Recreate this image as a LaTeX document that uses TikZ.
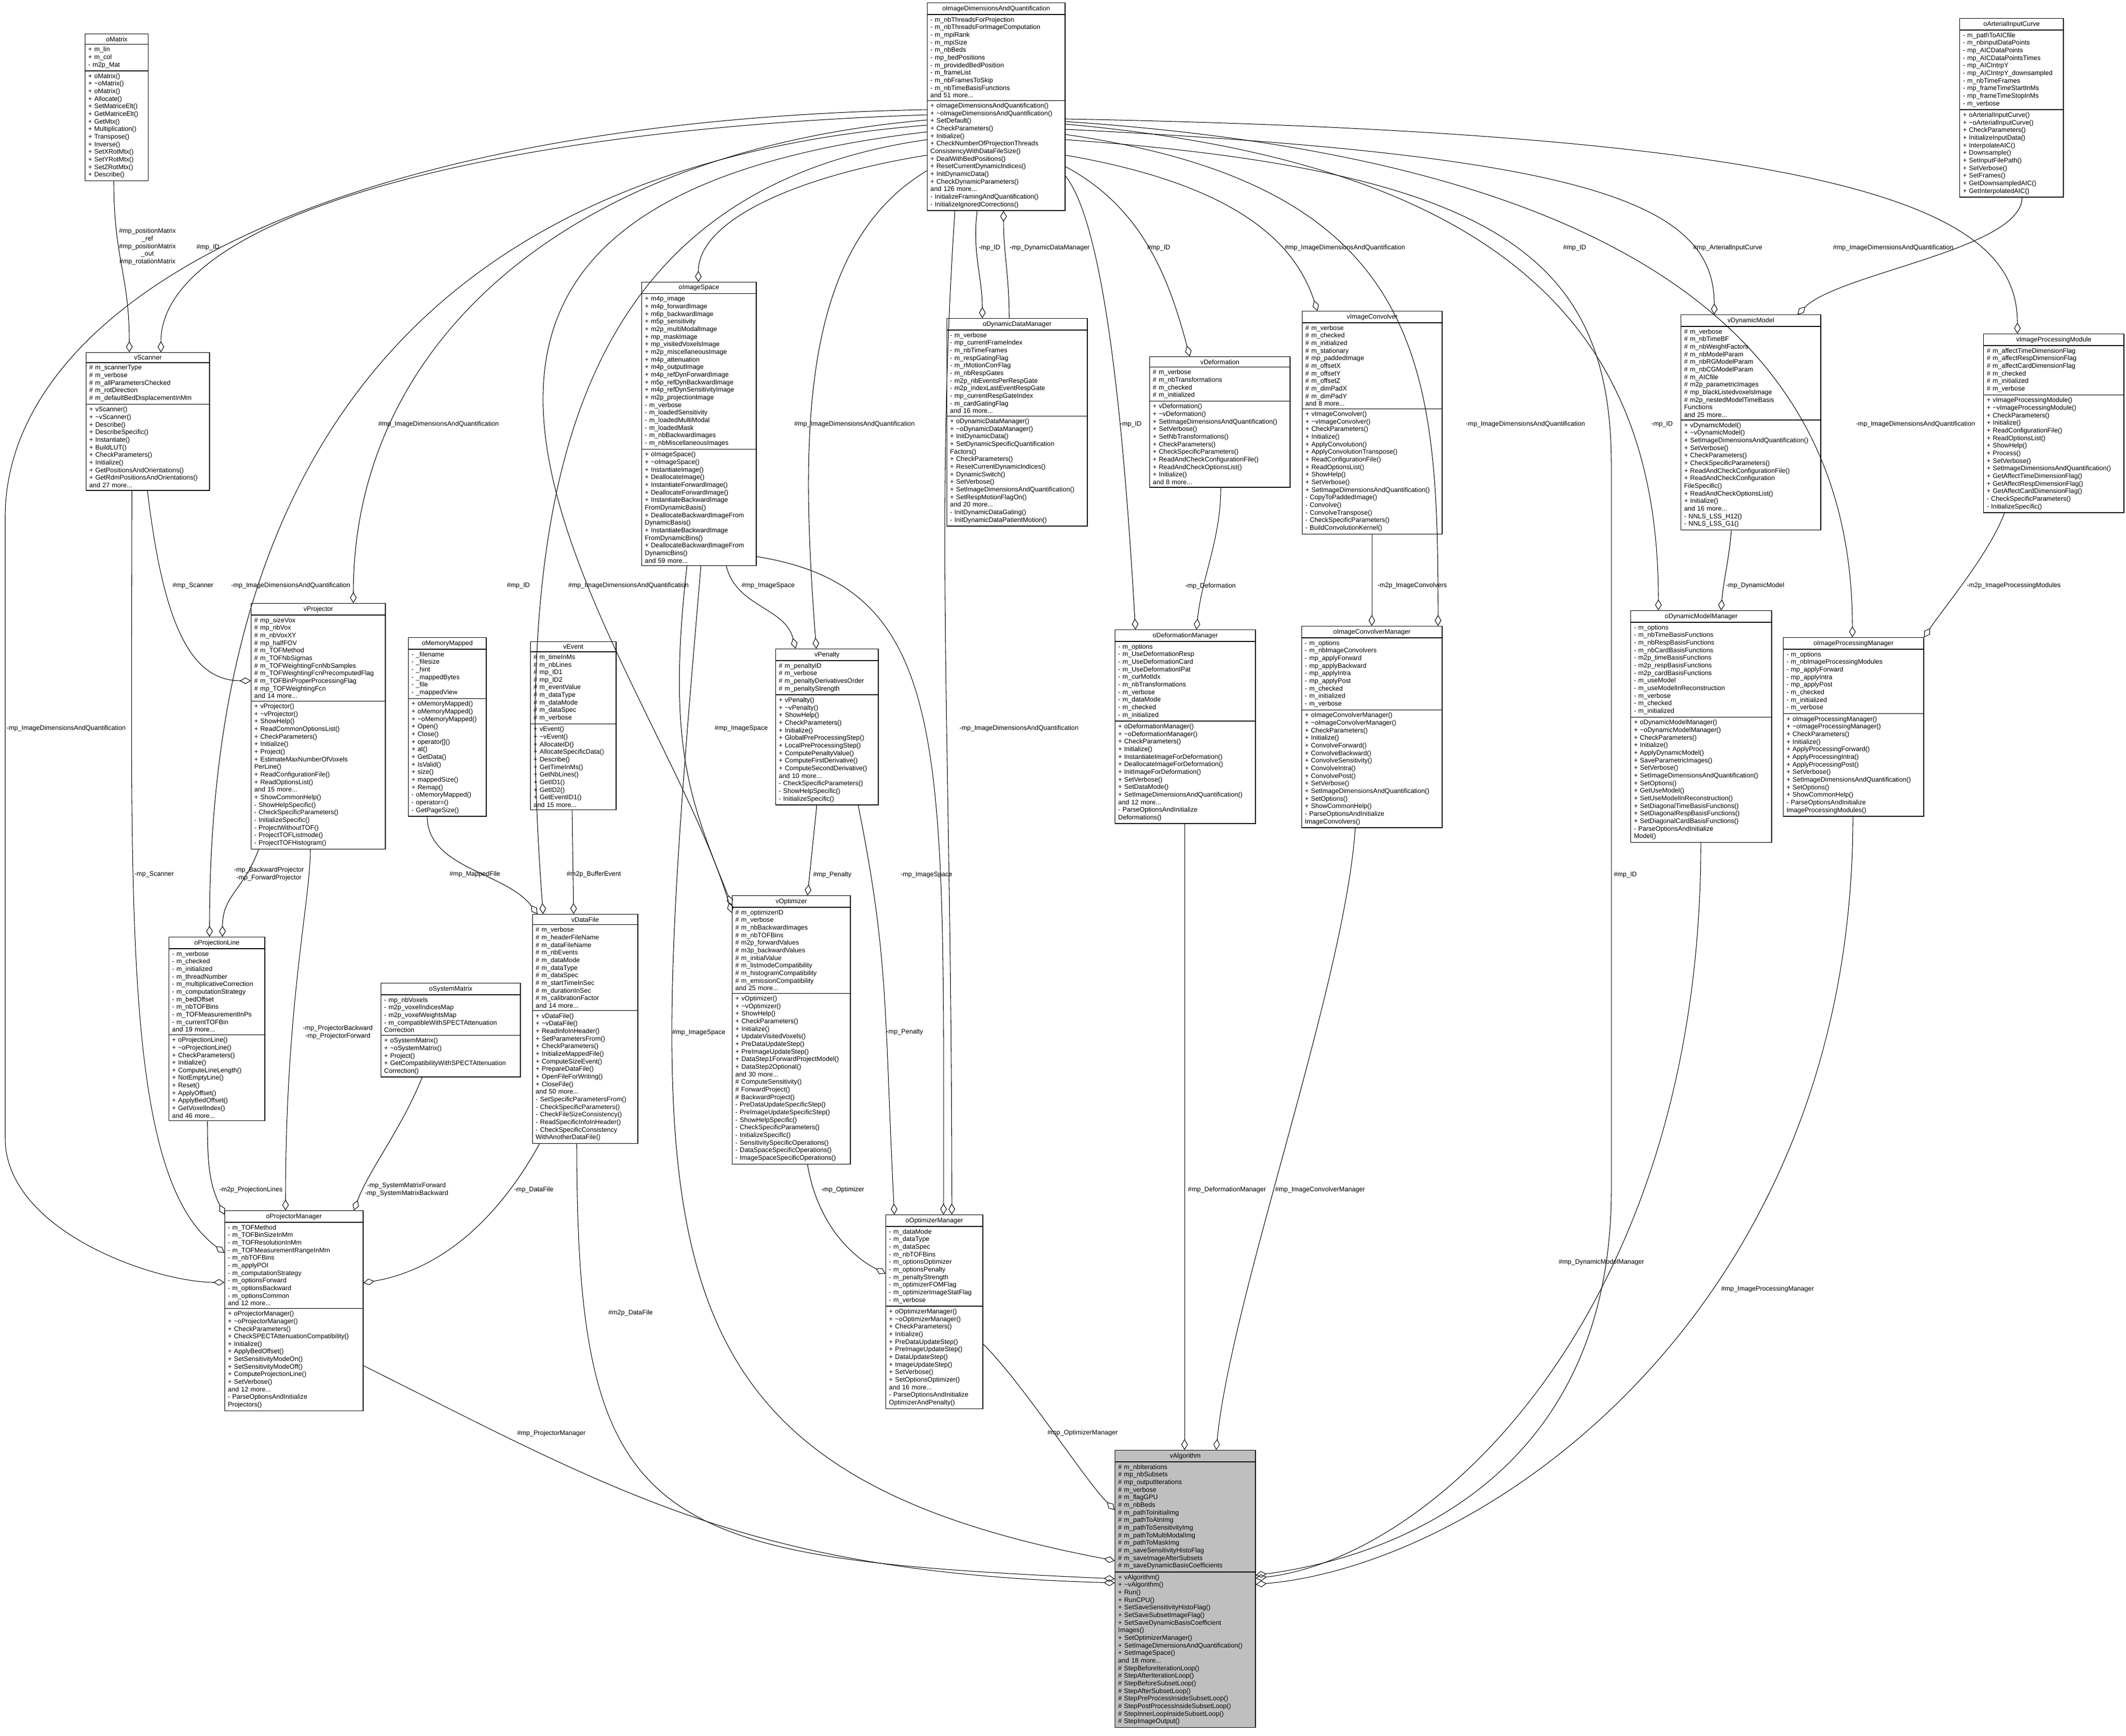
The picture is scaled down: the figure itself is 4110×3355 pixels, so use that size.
\documentclass[tikz,border=0pt]{standalone}
\usepackage{fontspec}
\setmainfont{Liberation Sans}
\usetikzlibrary{shapes.multipart,arrows.meta}
\newcommand{\fs}{\fontsize{3.6}{4.17}\selectfont}
\newcommand{\tld}{\textasciitilde}
\tikzset{
  cls/.style={draw, line width=0.4pt, rectangle split, rectangle split parts=3, anchor=north west, align=left, inner xsep=0.06cm, inner ysep=0.045cm, font=\fs},
  agg/.style={line width=0.3pt, -{Diamond[open,length=6pt,width=3.6pt]}},
  lbl/.style={font=\fs, inner sep=0pt, align=center}
}
\begin{document}
\begin{tikzpicture}[x=0.01cm,y=-0.01cm]
\useasboundingbox (0,0) rectangle (4110,3355);
% ---------------- classes ----------------
\node[cls, text width=1.10cm] (oMatrix) at (164,65) {\hfil oMatrix\hfil
\nodepart{two} + m\_lin\\+ m\_col\\- m2p\_Mat
\nodepart{three} + oMatrix()\\+ \tld oMatrix()\\+ oMatrix()\\+ Allocate()\\+ SetMatriceElt()\\+ GetMatriceElt()\\+ GetMtx()\\+ Multiplication()\\+ Transpose()\\+ Inverse()\\+ SetXRotMtx()\\+ SetYRotMtx()\\+ SetZRotMtx()\\+ Describe()};

\node[cls, text width=2.54cm] (oIDAQ) at (1792,5) {\hfil oImageDimensionsAndQuantification\hfil
\nodepart{two} - m\_nbThreadsForProjection\\- m\_nbThreadsForImageComputation\\- m\_mpiRank\\- m\_mpiSize\\- m\_nbBeds\\- mp\_bedPositions\\- m\_providedBedPosition\\- m\_frameList\\- m\_nbFramesToSkip\\- m\_nbTimeBasisFunctions\\and 51 more...
\nodepart{three} + oImageDimensionsAndQuantification()\\+ \tld oImageDimensionsAndQuantification()\\+ SetDefault()\\+ CheckParameters()\\+ Initialize()\\+ CheckNumberOfProjectionThreads\\ConsistencyWithDataFileSize()\\+ DealWithBedPositions()\\+ ResetCurrentDynamicIndices()\\+ InitDynamicData()\\+ CheckDynamicParameters()\\and 126 more...\\- InitializeFramingAndQuantification()\\- InitializeIgnoredCorrections()};

\node[cls, text width=1.88cm] (oArt) at (3788,35) {\hfil oArterialInputCurve\hfil
\nodepart{two} - m\_pathToAICfile\\- m\_nbinputDataPoints\\- mp\_AICDataPoints\\- mp\_AICDataPointsTimes\\- mp\_AICIntrpY\\- mp\_AICIntrpY\_downsampled\\- m\_nbTimeFrames\\- mp\_frameTimeStartInMs\\- mp\_frameTimeStopInMs\\- m\_verbose
\nodepart{three} + oArterialInputCurve()\\+ \tld oArterialInputCurve()\\+ CheckParameters()\\+ InitializeInputData()\\+ InterpolateAIC()\\+ Downsample()\\+ SetInputFilePath()\\+ SetVerbose()\\+ SetFrames()\\+ GetDownsampledAIC()\\+ GetInterpolatedAIC()};

\node[cls, text width=2.26cm] (vScanner) at (166,681) {\hfil vScanner\hfil
\nodepart{two} \# m\_scannerType\\\# m\_verbose\\\# m\_allParametersChecked\\\# m\_rotDirection\\\# m\_defaultBedDisplacementInMm
\nodepart{three} + vScanner()\\+ \tld vScanner()\\+ Describe()\\+ DescribeSpecific()\\+ Instantiate()\\+ BuildLUT()\\+ CheckParameters()\\+ Initialize()\\+ GetPositionsAndOrientations()\\+ GetRdmPositionsAndOrientations()\\and 27 more...};

\node[cls, text width=2.09cm] (oIS) at (1240,545) {\hfil oImageSpace\hfil
\nodepart{two} + m4p\_image\\+ m4p\_forwardImage\\+ m6p\_backwardImage\\+ m5p\_sensitivity\\+ m2p\_multiModalImage\\+ mp\_maskImage\\+ mp\_visitedVoxelsImage\\+ m2p\_miscellaneousImage\\+ m4p\_attenuation\\+ m4p\_outputImage\\+ m4p\_refDynForwardImage\\+ m5p\_refDynBackwardImage\\+ m4p\_refDynSensitivityImage\\+ m2p\_projectionImage\\- m\_verbose\\- m\_loadedSensitivity\\- m\_loadedMultiModal\\- m\_loadedMask\\- m\_nbBackwardImages\\- m\_nbMiscellaneousImages
\nodepart{three} + oImageSpace()\\+ \tld oImageSpace()\\+ InstantiateImage()\\+ DeallocateImage()\\+ InstantiateForwardImage()\\+ DeallocateForwardImage()\\+ InstantiateBackwardImage\\FromDynamicBasis()\\+ DeallocateBackwardImageFrom\\DynamicBasis()\\+ InstantiateBackwardImage\\FromDynamicBins()\\+ DeallocateBackwardImageFrom\\DynamicBins()\\and 59 more...};

\node[cls, text width=2.59cm] (oDDM) at (1830,615) {\hfil oDynamicDataManager\hfil
\nodepart{two} - m\_verbose\\- mp\_currentFrameIndex\\- m\_nbTimeFrames\\- m\_respGatingFlag\\- m\_rMotionCorrFlag\\- m\_nbRespGates\\- m2p\_nbEventsPerRespGate\\- m2p\_indexLastEventRespGate\\- mp\_currentRespGateIndex\\- m\_cardGatingFlag\\and 16 more...
\nodepart{three} + oDynamicDataManager()\\+ \tld oDynamicDataManager()\\+ InitDynamicData()\\+ SetDynamicSpecificQuantification\\Factors()\\+ CheckParameters()\\+ ResetCurrentDynamicIndices()\\+ DynamicSwitch()\\+ SetVerbose()\\+ SetImageDimensionsAndQuantification()\\+ SetRespMotionFlagOn()\\and 20 more...\\- InitDynamicDataGating()\\- InitDynamicDataPatientMotion()};

\node[cls, text width=2.59cm] (vDef) at (2222,689) {\hfil vDeformation\hfil
\nodepart{two} \# m\_verbose\\\# m\_nbTransformations\\\# m\_checked\\\# m\_initialized
\nodepart{three} + vDeformation()\\+ \tld vDeformation()\\+ SetImageDimensionsAndQuantification()\\+ SetVerbose()\\+ SetNbTransformations()\\+ CheckParameters()\\+ CheckSpecificParameters()\\+ ReadAndCheckConfigurationFile()\\+ ReadAndCheckOptionsList()\\+ Initialize()\\and 8 more...};

\node[cls, text width=2.58cm] (vIC) at (2517,601) {\hfil vImageConvolver\hfil
\nodepart{two} \# m\_verbose\\\# m\_checked\\\# m\_initialized\\\# m\_stationary\\\# mp\_paddedImage\\\# m\_offsetX\\\# m\_offsetY\\\# m\_offsetZ\\\# m\_dimPadX\\\# m\_dimPadY\\and 8 more...
\nodepart{three} + vImageConvolver()\\+ \tld vImageConvolver()\\+ CheckParameters()\\+ Initialize()\\+ ApplyConvolution()\\+ ApplyConvolutionTranspose()\\+ ReadConfigurationFile()\\+ ReadOptionsList()\\+ ShowHelp()\\+ SetVerbose()\\+ SetImageDimensionsAndQuantification()\\- CopyToPaddedImage()\\- Convolve()\\- ConvolveTranspose()\\- CheckSpecificParameters()\\- BuildConvolutionKernel()};

\node[cls, text width=2.58cm] (vDM) at (3249,608) {\hfil vDynamicModel\hfil
\nodepart{two} \# m\_verbose\\\# m\_nbTimeBF\\\# m\_nbWeightFactors\\\# m\_nbModelParam\\\# m\_nbRGModelParam\\\# m\_nbCGModelParam\\\# m\_AICfile\\\# m2p\_parametricImages\\\# mp\_blackListedvoxelsImage\\\# m2p\_nestedModelTimeBasis\\Functions\\and 25 more...
\nodepart{three} + vDynamicModel()\\+ \tld vDynamicModel()\\+ SetImageDimensionsAndQuantification()\\+ SetVerbose()\\+ CheckParameters()\\+ CheckSpecificParameters()\\+ ReadAndCheckConfigurationFile()\\+ ReadAndCheckConfiguration\\FileSpecific()\\+ ReadAndCheckOptionsList()\\+ Initialize()\\and 16 more...\\- NNLS\_LSS\_H12()\\- NNLS\_LSS\_G1()};

\node[cls, text width=2.59cm] (vIPM) at (3834,645) {\hfil vImageProcessingModule\hfil
\nodepart{two} \# m\_affectTimeDimensionFlag\\\# m\_affectRespDimensionFlag\\\# m\_affectCardDimensionFlag\\\# m\_checked\\\# m\_initialized\\\# m\_verbose
\nodepart{three} + vImageProcessingModule()\\+ \tld vImageProcessingModule()\\+ CheckParameters()\\+ Initialize()\\+ ReadConfigurationFile()\\+ ReadOptionsList()\\+ ShowHelp()\\+ Process()\\+ SetVerbose()\\+ SetImageDimensionsAndQuantification()\\+ GetAffectTimeDimensionFlag()\\+ GetAffectRespDimensionFlag()\\+ GetAffectCardDimensionFlag()\\- CheckSpecificParameters()\\- InitializeSpecific()};

\node[cls, text width=2.47cm] (vProj) at (485,1166) {\hfil vProjector\hfil
\nodepart{two} \# mp\_sizeVox\\\# mp\_nbVox\\\# m\_nbVoxXY\\\# mp\_halfFOV\\\# m\_TOFMethod\\\# m\_TOFNbSigmas\\\# m\_TOFWeightingFcnNbSamples\\\# m\_TOFWeightingFcnPrecomputedFlag\\\# m\_TOFBinProperProcessingFlag\\\# mp\_TOFWeightingFcn\\and 14 more...
\nodepart{three} + vProjector()\\+ \tld vProjector()\\+ ShowHelp()\\+ ReadCommonOptionsList()\\+ CheckParameters()\\+ Initialize()\\+ Project()\\+ EstimateMaxNumberOfVoxels\\PerLine()\\+ ReadConfigurationFile()\\+ ReadOptionsList()\\and 15 more...\\+ ShowCommonHelp()\\- ShowHelpSpecific()\\- CheckSpecificParameters()\\- InitializeSpecific()\\- ProjectWithoutTOF()\\- ProjectTOFListmode()\\- ProjectTOFHistogram()};

\node[cls, text width=1.38cm] (oMM) at (789,1232) {\hfil oMemoryMapped\hfil
\nodepart{two} - \_filename\\- \_filesize\\- \_hint\\- \_mappedBytes\\- \_file\\- \_mappedView
\nodepart{three} + oMemoryMapped()\\+ oMemoryMapped()\\+ \tld oMemoryMapped()\\+ Open()\\+ Close()\\+ operator[]()\\+ at()\\+ GetData()\\+ IsValid()\\+ size()\\+ mappedSize()\\+ Remap()\\- oMemoryMapped()\\- operator=()\\- GetPageSize()};

\node[cls, text width=1.53cm] (vEv) at (1025,1240) {\hfil vEvent\hfil
\nodepart{two} \# m\_timeInMs\\\# m\_nbLines\\\# mp\_ID1\\\# mp\_ID2\\\# m\_eventValue\\\# m\_dataType\\\# m\_dataMode\\\# m\_dataSpec\\\# m\_verbose
\nodepart{three} + vEvent()\\+ \tld vEvent()\\+ AllocateID()\\+ AllocateSpecificData()\\+ Describe()\\+ GetTimeInMs()\\+ GetNbLines()\\+ GetID1()\\+ GetID2()\\+ GetEventID1()\\and 15 more...};

\node[cls, text width=1.86cm] (vPen) at (1499,1254) {\hfil vPenalty\hfil
\nodepart{two} \# m\_penaltyID\\\# m\_verbose\\\# m\_penaltyDerivativesOrder\\\# m\_penaltyStrength
\nodepart{three} + vPenalty()\\+ \tld vPenalty()\\+ ShowHelp()\\+ CheckParameters()\\+ Initialize()\\+ GlobalPreProcessingStep()\\+ LocalPreProcessingStep()\\+ ComputePenaltyValue()\\+ ComputeFirstDerivative()\\+ ComputeSecondDerivative()\\and 10 more...\\- CheckSpecificParameters()\\- ShowHelpSpecific()\\- InitializeSpecific()};

\node[cls, text width=2.59cm] (oDefM) at (2155,1217) {\hfil oDeformationManager\hfil
\nodepart{two} - m\_options\\- m\_UseDeformationResp\\- m\_UseDeformationCard\\- m\_UseDeformationIPat\\- m\_curMotIdx\\- m\_nbTransformations\\- m\_verbose\\- m\_dataMode\\- m\_checked\\- m\_initialized
\nodepart{three} + oDeformationManager()\\+ \tld oDeformationManager()\\+ CheckParameters()\\+ Initialize()\\+ InstantiateImageForDeformation()\\+ DeallocateImageForDeformation()\\+ InitImageForDeformation()\\+ SetVerbose()\\+ SetDataMode()\\+ SetImageDimensionsAndQuantification()\\and 12 more...\\- ParseOptionsAndInitialize\\Deformations()};

\node[cls, text width=2.59cm] (oICM) at (2516,1210) {\hfil oImageConvolverManager\hfil
\nodepart{two} - m\_options\\- m\_nbImageConvolvers\\- mp\_applyForward\\- mp\_applyBackward\\- mp\_applyIntra\\- mp\_applyPost\\- m\_checked\\- m\_initialized\\- m\_verbose
\nodepart{three} + oImageConvolverManager()\\+ \tld oImageConvolverManager()\\+ CheckParameters()\\+ Initialize()\\+ ConvolveForward()\\+ ConvolveBackward()\\+ ConvolveSensitivity()\\+ ConvolveIntra()\\+ ConvolvePost()\\+ SetVerbose()\\+ SetImageDimensionsAndQuantification()\\+ SetOptions()\\+ ShowCommonHelp()\\- ParseOptionsAndInitialize\\ImageConvolvers()};

\node[cls, text width=2.60cm] (oDMM) at (3152,1180) {\hfil oDynamicModelManager\hfil
\nodepart{two} - m\_options\\- m\_nbTimeBasisFunctions\\- m\_nbRespBasisFunctions\\- m\_nbCardBasisFunctions\\- m2p\_timeBasisFunctions\\- m2p\_respBasisFunctions\\- m2p\_cardBasisFunctions\\- m\_useModel\\- m\_useModelInReconstruction\\- m\_verbose\\- m\_checked\\- m\_initialized
\nodepart{three} + oDynamicModelManager()\\+ \tld oDynamicModelManager()\\+ CheckParameters()\\+ Initialize()\\+ ApplyDynamicModel()\\+ SaveParametricImages()\\+ SetVerbose()\\+ SetImageDimensionsAndQuantification()\\+ SetOptions()\\+ GetUseModel()\\+ SetUseModelInReconstruction()\\+ SetDiagonalTimeBasisFunctions()\\+ SetDiagonalRespBasisFunctions()\\+ SetDiagonalCardBasisFunctions()\\- ParseOptionsAndInitialize\\Model()};

\node[cls, text width=2.59cm] (oIPM) at (3447,1232) {\hfil oImageProcessingManager\hfil
\nodepart{two} - m\_options\\- m\_nbImageProcessingModules\\- mp\_applyForward\\- mp\_applyIntra\\- mp\_applyPost\\- m\_checked\\- m\_initialized\\- m\_verbose
\nodepart{three} + oImageProcessingManager()\\+ \tld oImageProcessingManager()\\+ CheckParameters()\\+ Initialize()\\+ ApplyProcessingForward()\\+ ApplyProcessingIntra()\\+ ApplyProcessingPost()\\+ SetVerbose()\\+ SetImageDimensionsAndQuantification()\\+ SetOptions()\\+ ShowCommonHelp()\\- ParseOptionsAndInitialize\\ImageProcessingModules()};

\node[cls, text width=1.73cm] (oPL) at (326,1811) {\hfil oProjectionLine\hfil
\nodepart{two} - m\_verbose\\- m\_checked\\- m\_initialized\\- m\_threadNumber\\- m\_multiplicativeCorrection\\- m\_computationStrategy\\- m\_bedOffset\\- m\_nbTOFBins\\- m\_TOFMeasurementInPs\\- m\_currentTOFBin\\and 19 more...
\nodepart{three} + oProjectionLine()\\+ \tld oProjectionLine()\\+ CheckParameters()\\+ Initialize()\\+ ComputeLineLength()\\+ NotEmptyLine()\\+ Reset()\\+ ApplyOffset()\\+ ApplyBedOffset()\\+ GetVoxelIndex()\\and 46 more...};

\node[cls, text width=2.57cm] (oSM) at (736,1900) {\hfil oSystemMatrix\hfil
\nodepart{two} - mp\_nbVoxels\\- m2p\_voxelIndicesMap\\- m2p\_voxelWeightsMap\\- m\_compatibleWithSPECTAttenuation\\Correction
\nodepart{three} + oSystemMatrix()\\+ \tld oSystemMatrix()\\+ Project()\\+ GetCompatibilityWithSPECTAttenuation\\Correction()};

\node[cls, text width=1.91cm] (vDF) at (1029,1767) {\hfil vDataFile\hfil
\nodepart{two} \# m\_verbose\\\# m\_headerFileName\\\# m\_dataFileName\\\# m\_nbEvents\\\# m\_dataMode\\\# m\_dataType\\\# m\_dataSpec\\\# m\_startTimeInSec\\\# m\_durationInSec\\\# m\_calibrationFactor\\and 14 more...
\nodepart{three} + vDataFile()\\+ \tld vDataFile()\\+ ReadInfoInHeader()\\+ SetParametersFrom()\\+ CheckParameters()\\+ InitializeMappedFile()\\+ ComputeSizeEvent()\\+ PrepareDataFile()\\+ OpenFileForWriting()\\+ CloseFile()\\and 50 more...\\- SetSpecificParametersFrom()\\- CheckSpecificParameters()\\- CheckFileSizeConsistency()\\- ReadSpecificInfoInHeader()\\- CheckSpecificConsistency\\WithAnotherDataFile()};

\node[cls, text width=2.16cm] (vOpt) at (1415,1731) {\hfil vOptimizer\hfil
\nodepart{two} \# m\_optimizerID\\\# m\_verbose\\\# m\_nbBackwardImages\\\# m\_nbTOFBins\\\# m2p\_forwardValues\\\# m3p\_backwardValues\\\# m\_initialValue\\\# m\_listmodeCompatibility\\\# m\_histogramCompatibility\\\# m\_emissionCompatibility\\and 25 more...
\nodepart{three} + vOptimizer()\\+ \tld vOptimizer()\\+ ShowHelp()\\+ CheckParameters()\\+ Initialize()\\+ UpdateVisitedVoxels()\\+ PreDataUpdateStep()\\+ PreImageUpdateStep()\\+ DataStep1ForwardProjectModel()\\+ DataStep2Optional()\\and 30 more...\\\# ComputeSensitivity()\\\# ForwardProject()\\\# BackwardProject()\\- PreDataUpdateSpecificStep()\\- PreImageUpdateSpecificStep()\\- ShowHelpSpecific()\\- CheckSpecificParameters()\\- InitializeSpecific()\\- SensitivitySpecificOperations()\\- DataSpaceSpecificOperations()\\- ImageSpaceSpecificOperations()};

\node[cls, text width=2.55cm] (oPM) at (434,2340) {\hfil oProjectorManager\hfil
\nodepart{two} - m\_TOFMethod\\- m\_TOFBinSizeInMm\\- m\_TOFResolutionInMm\\- m\_TOFMeasurementRangeInMm\\- m\_nbTOFBins\\- m\_applyPOI\\- m\_computationStrategy\\- m\_optionsForward\\- m\_optionsBackward\\- m\_optionsCommon\\and 12 more...
\nodepart{three} + oProjectorManager()\\+ \tld oProjectorManager()\\+ CheckParameters()\\+ CheckSPECTAttenuationCompatibility()\\+ Initialize()\\+ ApplyBedOffset()\\+ SetSensitivityModeOn()\\+ SetSensitivityModeOff()\\+ ComputeProjectionLine()\\+ SetVerbose()\\and 12 more...\\- ParseOptionsAndInitialize\\Projectors()};

\node[cls, text width=1.75cm] (oOM) at (1712,2348) {\hfil oOptimizerManager\hfil
\nodepart{two} - m\_dataMode\\- m\_dataType\\- m\_dataSpec\\- m\_nbTOFBins\\- m\_optionsOptimizer\\- m\_optionsPenalty\\- m\_penaltyStrength\\- m\_optimizerFOMFlag\\- m\_optimizerImageStatFlag\\- m\_verbose
\nodepart{three} + oOptimizerManager()\\+ \tld oOptimizerManager()\\+ CheckParameters()\\+ Initialize()\\+ PreDataUpdateStep()\\+ PreImageUpdateStep()\\+ DataUpdateStep()\\+ ImageUpdateStep()\\+ SetVerbose()\\+ SetOptionsOptimizer()\\and 16 more...\\- ParseOptionsAndInitialize\\OptimizerAndPenalty()};

\node[cls, text width=2.59cm, fill=black!25] (vAlg) at (2155,2803) {\hfil vAlgorithm\hfil
\nodepart{two} \# m\_nbIterations\\\# mp\_nbSubsets\\\# mp\_outputIterations\\\# m\_verbose\\\# m\_flagGPU\\\# m\_nbBeds\\\# m\_pathToInitialImg\\\# m\_pathToAtnImg\\\# m\_pathToSensitivityImg\\\# m\_pathToMultiModalImg\\\# m\_pathToMaskImg\\\# m\_saveSensitivityHistoFlag\\\# m\_saveImageAfterSubsets\\\# m\_saveDynamicBasisCoefficients
\nodepart{three} + vAlgorithm()\\+ \tld vAlgorithm()\\+ Run()\\+ RunCPU()\\+ SetSaveSensitivityHistoFlag()\\+ SetSaveSubsetImageFlag()\\+ SetSaveDynamicBasisCoefficient\\Images()\\+ SetOptimizerManager()\\+ SetImageDimensionsAndQuantification()\\+ SetImageSpace()\\and 18 more...\\\# StepBeforeIterationLoop()\\\# StepAfterIterationLoop()\\\# StepBeforeSubsetLoop()\\\# StepAfterSubsetLoop()\\\# StepPreProcessInsideSubsetLoop()\\\# StepPostProcessInsideSubsetLoop()\\\# StepInnerLoopInsideSubsetLoop()\\\# StepImageOutput()};

% ---------------- connectors ----------------
% from oImageDimensionsAndQuantification
\draw[agg] ([shift={(0,217)}]oIDAQ.north west) .. controls +(-900,30) and +(0,-250) .. ([shift={(145,0)}]vScanner.north west);
\draw[agg] ([shift={(0,227)}]oIDAQ.north west) .. controls +(-700,60) and +(0,-500) .. ([shift={(198,0)}]vProj.north west);
\draw[agg] ([shift={(0,237)}]oIDAQ.north west) .. controls +(-1000,80) and +(0,-900) .. ([shift={(79,0)}]oPL.north west);
\draw[agg] ([shift={(0,207)}]oIDAQ.north west) .. controls (600,235) and (10,600) .. (10,1000) -- (10,2200) .. controls (10,2380) and (300,2479) .. ([shift={(0,139)}]oPM.north west);
\draw[agg] ([shift={(0,265)}]oIDAQ.north west) .. controls +(-700,100) and +(-60,-800) .. ([shift={(21,0)}]vDF.north west);
\draw[agg] ([shift={(0,295)}]oIDAQ.north west) .. controls +(-250,40) and +(0,-120) .. ([shift={(110,0)}]oIS.north west);
\draw[agg] ([shift={(0,325)}]oIDAQ.north west) .. controls +(-250,150) and +(-30,-400) .. ([shift={(79,0)}]vPen.north west);
\draw[agg] ([shift={(0,250)}]oIDAQ.north west) .. controls +(-1300,150) and +(-150,-500) .. ([shift={(0,34)}]vOpt.north west);
\draw[agg] ([shift={(54,0)}]oIDAQ.south west) .. controls +(-40,600) and +(0,-900) .. ([shift={(128,0)}]oOM.north west);
\draw[agg] ([shift={(97,0)}]oIDAQ.south west) .. controls +(-10,80) and +(0,-80) .. ([shift={(69,0)}]oDDM.north west);
\draw[agg] ([shift={(121,0)}]oDDM.north west) .. controls +(0,-80) and +(0,80) .. ([shift={(148,0)}]oIDAQ.south west);
\draw[agg] ([shift={(0,335)}]oIDAQ.north east) .. controls +(80,100) and +(-20,-350) .. ([shift={(40,0)}]oDefM.north west);
\draw[agg] ([shift={(0,317)}]oIDAQ.north east) .. controls +(150,80) and +(-40,-150) .. ([shift={(78,0)}]vDef.north west);
\draw[agg] ([shift={(0,295)}]oIDAQ.north east) .. controls +(350,60) and +(-40,-120) .. ([shift={(30,0)}]vIC.north west);
\draw[agg] ([shift={(0,255)}]oIDAQ.north east) .. controls +(700,100) and +(0,-500) .. ([shift={(264,0)}]oICM.north west);
\draw[agg] ([shift={(0,245)}]oIDAQ.north east) .. controls +(1000,50) and +(0,-220) .. ([shift={(65,0)}]vDM.north west);
\draw[agg] ([shift={(0,235)}]oIDAQ.north east) .. controls +(900,80) and +(0,-500) .. ([shift={(54,0)}]oDMM.north west);
\draw[agg] ([shift={(0,225)}]oIDAQ.north east) .. controls +(1600,30) and +(0,-220) .. ([shift={(66,0)}]vIPM.north west);
\draw[agg] ([shift={(0,230)}]oIDAQ.north east) .. controls +(1200,80) and +(0,-500) .. ([shift={(134,0)}]oIPM.north west);
\draw[agg] ([shift={(0,265)}]oIDAQ.north east) .. controls (2900,330) and (3115,500) .. (3115,900) -- (3115,2300) .. controls (3115,2850) and (2700,3010) .. ([shift={(0,242)}]vAlg.north east);
\draw[agg] ([shift={(121,0)}]oArt.south west) .. controls +(0,100) and +(80,-80) .. ([shift={(226,0)}]vDM.north west);
% left part
\draw[agg] ([shift={(56,0)}]oMatrix.south west) .. controls +(0,150) and +(0,-150) .. ([shift={(84,0)}]vScanner.north west);
\draw[agg] ([shift={(119,0)}]vScanner.south west) .. controls +(30,250) and +(-120,0) .. ([shift={(0,150)}]vProj.north west);
\draw[agg] ([shift={(89,0)}]vScanner.south west) .. controls +(0,800) and +(-200,-150) .. ([shift={(0,82)}]oPM.north west);
\draw[agg] ([shift={(15,0)}]vProj.south west) .. controls +(-30,80) and +(0,-80) .. ([shift={(104,0)}]oPL.north west);
\draw[agg] ([shift={(115,0)}]vProj.south west) .. controls +(0,100) and +(0,-400) .. ([shift={(118,0)}]oPM.north west);
\draw[agg] ([shift={(75,0)}]oPL.south west) .. controls +(0,80) and +(-30,-60) .. ([shift={(0,8)}]oPM.north west);
\draw[agg] ([shift={(80,0)}]oSM.south west) .. controls +(-40,100) and +(30,-80) .. ([shift={(250,0)}]oPM.north west);
\draw[agg] ([shift={(14,0)}]vDF.south west) .. controls +(-100,180) and +(120,-20) .. ([shift={(0,140)}]oPM.north east);
\draw[agg] ([shift={(37,0)}]oMM.south west) .. controls +(0,100) and +(-60,-80) .. ([shift={(10,0)}]vDF.north west);
\draw[agg] ([shift={(81,0)}]vEv.south west) -- ([shift={(80,0)}]vDF.north west);
\draw[agg] ([shift={(86,0)}]vDF.south west) .. controls +(0,750) and +(-900,-40) .. ([shift={(0,249)}]vAlg.north west);
\draw[agg] ([shift={(0,300)}]oPM.north east) .. controls +(500,250) and +(-700,-20) .. ([shift={(0,257)}]vAlg.north west);
% middle part
\draw[agg] ([shift={(164,0)}]oIS.south west) .. controls +(20,80) and +(-20,-80) .. ([shift={(39,0)}]vPen.north west);
\draw[agg] ([shift={(88,0)}]oIS.south west) .. controls +(-40,350) and +(-80,-200) .. ([shift={(0,19)}]vOpt.north west);
\draw[agg] ([shift={(115,0)}]oIS.south west) .. controls +(-110,1300) and +(-950,-180) .. ([shift={(0,214)}]vAlg.north west);
\draw[agg] ([shift={(0,531)}]oIS.north east) .. controls +(380,60) and +(0,-900) .. ([shift={(112,0)}]oOM.north west);
\draw[agg] ([shift={(80,0)}]vPen.south west) -- ([shift={(146,0)}]vOpt.north west);
\draw[agg] ([shift={(160,0)}]vPen.south west) .. controls +(60,300) and +(-20,-400) .. ([shift={(17,0)}]oOM.north west);
\draw[agg] ([shift={(146,0)}]vOpt.south west) .. controls +(20,120) and +(-60,-30) .. ([shift={(0,114)}]oOM.north west);
\draw[agg] ([shift={(0,250)}]oOM.north east) .. controls +(80,80) and +(-60,-60) .. ([shift={(0,116)}]vAlg.north west);
% right part
\draw[agg] ([shift={(138,0)}]vDef.south west) .. controls +(0,100) and +(10,-100) .. ([shift={(158,0)}]oDefM.north west);
\draw[agg] ([shift={(135,0)}]vIC.south west) -- ([shift={(136,0)}]oICM.north west);
\draw[agg] ([shift={(98,0)}]vDM.south west) .. controls +(-5,60) and +(5,-60) .. ([shift={(175,0)}]oDMM.north west);
\draw[agg] ([shift={(41,0)}]vIPM.south west) .. controls +(-30,80) and +(40,-60) .. (oIPM.north east);
\draw[agg] ([shift={(135,0)}]oDefM.south west) -- ([shift={(135,0)}]vAlg.north west);
\draw[agg] ([shift={(104,0)}]oICM.south west) .. controls +(-20,300) and +(30,-300) .. ([shift={(196,0)}]vAlg.north west);
\draw[agg] ([shift={(136,0)}]oDMM.south west) .. controls +(0,900) and +(350,-40) .. ([shift={(0,248)}]vAlg.north east);
\draw[agg] ([shift={(135,0)}]oIPM.south west) .. controls +(0,950) and +(450,-40) .. ([shift={(0,260)}]vAlg.north east);

% ---------------- labels ----------------
\node[lbl] (l1) at (285,477) {\#mp\_positionMatrix\\\_ref\\\#mp\_positionMatrix\\\_out\\\#mp\_rotationMatrix};
\node[lbl] (l2) at (402,478) {\#mp\_ID};
\node[lbl] (l3) at (848,820) {\#mp\_ImageDimensionsAndQuantification};
\node[lbl] (l4) at (562,1132) {-mp\_ImageDimensionsAndQuantification};
\node[lbl] (l5) at (1002,1132) {\#mp\_ID};
\node[lbl] (l6) at (1215,1132) {\#mp\_ImageDimensionsAndQuantification};
\node[lbl] (l7) at (128,1408) {-mp\_ImageDimensionsAndQuantification};
\node[lbl] (l8) at (373,1132) {\#mp\_Scanner};
\node[lbl] (l9) at (298,1690) {-mp\_Scanner};
\node[lbl] (l10) at (520,1690) {-mp\_BackwardProjector\\-mp\_ForwardProjector};
\node[lbl] (l11) at (485,2300) {-m2p\_ProjectionLines};
\node[lbl] (l12) at (653,1996) {-mp\_ProjectorBackward\\-mp\_ProjectorForward};
\node[lbl] (l13) at (786,2300) {-mp\_SystemMatrixForward\\-mp\_SystemMatrixBackward};
\node[lbl] (l14) at (1032,2300) {-mp\_DataFile};
\node[lbl] (l15) at (1219,2538) {\#m2p\_DataFile};
\node[lbl] (l16) at (1066,2771) {\#mp\_ProjectorManager};
\node[lbl] (l17) at (918,1690) {\#mp\_MappedFile};
\node[lbl] (l18) at (1148,1690) {\#m2p\_BufferEvent};
\node[lbl] (l19) at (1485,1132) {\#mp\_ImageSpace};
\node[lbl] (l20) at (1433,1408) {\#mp\_ImageSpace};
\node[lbl] (l21) at (1351,1996) {\#mp\_ImageSpace};
\node[lbl] (l22) at (1791,1691) {-mp\_ImageSpace};
\node[lbl] (l23) at (1652,820) {\#mp\_ImageDimensionsAndQuantification};
\node[lbl] (l24) at (1970,1408) {-mp\_ImageDimensionsAndQuantification};
\node[lbl] (l25) at (1609,1691) {\#mp\_Penalty};
\node[lbl] (l26) at (1749,1995) {-mp\_Penalty};
\node[lbl] (l27) at (1629,2300) {-mp\_Optimizer};
\node[lbl] (l28) at (2093,2770) {\#mp\_OptimizerManager};
\node[lbl] (l29) at (1913,479) {-mp\_ID};
\node[lbl] (l30) at (2029,479) {-mp\_DynamicDataManager};
\node[lbl] (l31) at (2186,820) {-mp\_ID};
\node[lbl] (l32) at (2240,479) {\#mp\_ID};
\node[lbl] (l33) at (2600,479) {\#mp\_ImageDimensionsAndQuantification};
\node[lbl] (l34) at (2949,820) {-mp\_ImageDimensionsAndQuantification};
\node[lbl] (l35) at (2340,1133) {-mp\_Deformation};
\node[lbl] (l36) at (2730,1132) {-m2p\_ImageConvolvers};
\node[lbl] (l37) at (3213,820) {-mp\_ID};
\node[lbl] (l38) at (3393,1132) {-mp\_DynamicModel};
\node[lbl] (l39) at (3703,820) {-mp\_ImageDimensionsAndQuantification};
\node[lbl] (l40) at (3893,1132) {-m2p\_ImageProcessingModules};
\node[lbl] (l41) at (3142,1691) {\#mp\_ID};
\node[lbl] (l42) at (3044,479) {\#mp\_ID};
\node[lbl] (l43) at (3340,479) {\#mp\_ArterialInputCurve};
\node[lbl] (l44) at (3660,479) {\#mp\_ImageDimensionsAndQuantification};
\node[lbl] (l45) at (2372,2300) {\#mp\_DeformationManager};
\node[lbl] (l46) at (2552,2300) {\#mp\_ImageConvolverManager};
\node[lbl] (l47) at (3096,2440) {\#mp\_DynamicModelManager};
\node[lbl] (l48) at (3417,2492) {\#mp\_ImageProcessingManager};
\end{tikzpicture}
\end{document}
